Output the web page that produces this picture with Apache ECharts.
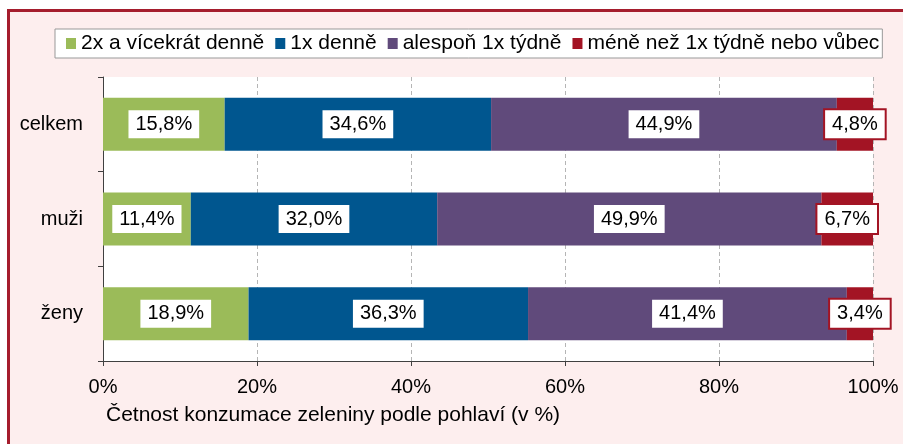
<!DOCTYPE html>
<html>
<head>
<meta charset="utf-8">
<script src="https://cdn.jsdelivr.net/npm/echarts@6/dist/echarts.min.js"></script>
<style>
  html, body { margin: 0; padding: 0; overflow: hidden; background: #fff; }
  #frame {
    position: absolute; left: 7px; top: 9px; width: 1000px; height: 1000px;
    border: 3px solid #a51d2d; background: #fdeeee;
  }
  #chart { position: absolute; left: 0; top: 0; width: 903px; height: 444px; }
</style>
</head>
<body>
<div id="frame"></div>
<div id="chart"></div>
<script>
var categories = ["celkem", "muži", "ženy"];
var seriesNames = ["2x a vícekrát denně", "1x denně", "alespoň 1x týdně", "méně než 1x týdně nebo vůbec"];
var twiceDaily = [15.8, 11.4, 18.9];
var onceDaily = [34.6, 32.0, 36.3];
var weekly = [44.9, 49.9, 41.4];
var lessOften = [4.8, 6.7, 3.4];
var xTicks = [0, 20, 40, 60, 80, 100];

var colors = ["#9bbb59", "#00568f", "#604a7b", "#a31424"];
var values = [twiceDaily, onceDaily, weekly, lessOften];

var myChart = echarts.init(document.getElementById("chart"));

function fmt(v) {
  return v.toFixed(1).replace(".", ",") + "%";
}

var series = seriesNames.map(function (name, i) {
  return {
    name: name,
    type: "bar",
    stack: "total",
    data: values[i],
    barWidth: "56%",
    itemStyle: { color: colors[i] },
    label: {
      show: true,
      position: "inside",
      formatter: function (p) { return fmt(p.value); },
      color: "#000",
      fontSize: 20,
      fontFamily: "Liberation Sans",
      backgroundColor: "#fff",
      padding: [4, 7, 4, 7],
      lineHeight: 20,
      borderColor: i === 3 ? "#a31424" : "transparent",
      borderWidth: i === 3 ? 2 : 0
    }
  };
});

myChart.setOption({
  backgroundColor: "transparent",
  animation: false,
  textStyle: { fontFamily: "Liberation Sans" },
  title: {
    text: "Četnost konzumace zeleniny podle pohlaví (v %)",
    left: 106,
    top: 405,
    padding: 0,
    textStyle: { fontSize: 21, fontWeight: "normal", color: "#000", fontFamily: "Liberation Sans" }
  },
  legend: {
    data: seriesNames,
    left: 55,
    top: 29,
    icon: "rect",
    itemWidth: 10,
    itemHeight: 11,
    itemGap: 11,
    padding: [4, 3, 4, 11],
    backgroundColor: "#fff",
    borderColor: "#999",
    borderWidth: 1,
    textStyle: { fontSize: 21, color: "#000", lineHeight: 21, fontFamily: "Liberation Sans" }
  },
  grid: {
    left: 103,
    right: 30,
    top: 77,
    bottom: 83,
    show: true,
    backgroundColor: "#fff",
    borderWidth: 0
  },
  xAxis: {
    type: "value",
    min: xTicks[0],
    max: xTicks[xTicks.length - 1],
    interval: 20,
    axisLine: { show: true, lineStyle: { color: "#404040", width: 1 } },
    axisTick: { show: true, length: 5, lineStyle: { color: "#404040" } },
    axisLabel: {
      margin: 16,
      fontSize: 20,
      color: "#000",
      formatter: function (v) { return v + "%"; }
    },
    splitLine: { show: true, lineStyle: { color: "#b5b5b5", type: [4, 3] } }
  },
  yAxis: {
    type: "category",
    data: categories,
    inverse: true,
    axisLine: { show: true, lineStyle: { color: "#404040", width: 1 } },
    axisTick: { show: true, length: 5, lineStyle: { color: "#404040" } },
    axisLabel: { margin: 20, fontSize: 20, color: "#000" },
    splitLine: { show: false }
  },
  series: series
});
</script>
</body>
</html>
